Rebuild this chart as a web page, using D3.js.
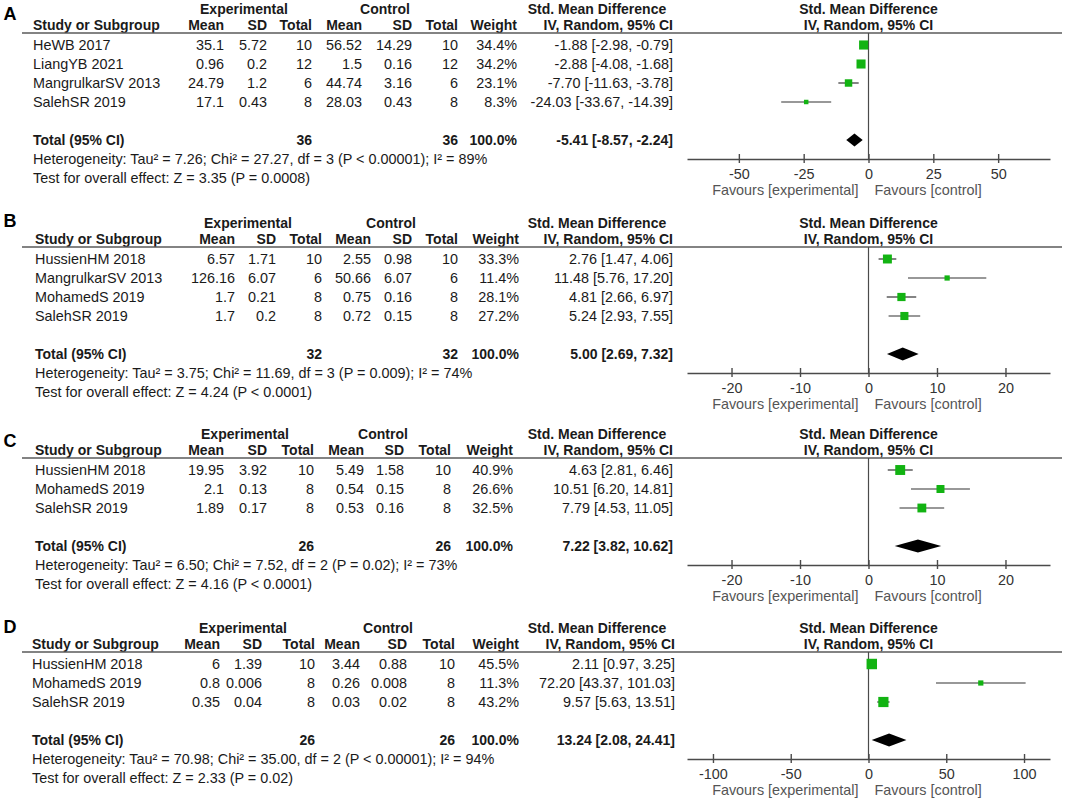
<!DOCTYPE html>
<html>
<head>
<meta charset="utf-8">
<script src="https://cdn.jsdelivr.net/npm/d3@7/dist/d3.min.js"></script>
<style>
  html, body { margin: 0; padding: 0; background: #ffffff; }
  svg { display: block; font-family: "Liberation Sans", Arial, sans-serif; }
</style>
</head>
<body>
<script>
// ---------------- DATA ----------------
// Panel A
const A_study   = ["HeWB 2017", "LiangYB 2021", "MangrulkarSV 2013", "SalehSR 2019"];
const A_expMean = [35.1, 0.96, 24.79, 17.1];
const A_expSD   = [5.72, 0.2, 1.2, 0.43];
const A_expN    = [10, 12, 6, 8];
const A_ctlMean = [56.52, 1.5, 44.74, 28.03];
const A_ctlSD   = [14.29, 0.16, 3.16, 0.43];
const A_ctlN    = [10, 12, 6, 8];
const A_weight  = [34.4, 34.2, 23.1, 8.3];
const A_smd     = [-1.88, -2.88, -7.70, -24.03];
const A_lo      = [-2.98, -4.08, -11.63, -33.67];
const A_hi      = [-0.79, -1.68, -3.78, -14.39];
const A_total   = [-5.41, -8.57, -2.24];
const A_totalN  = [36, 36];
const A_ticks   = [-50, -25, 0, 25, 50];
const A_extent  = [-70, 70];
const A_het  = "Heterogeneity: Tau\u00B2 = 7.26; Chi\u00B2 = 27.27, df = 3 (P < 0.00001); I\u00B2 = 89%";
const A_test = "Test for overall effect: Z = 3.35 (P = 0.0008)";

// Panel B
const B_study   = ["HussienHM 2018", "MangrulkarSV 2013", "MohamedS 2019", "SalehSR 2019"];
const B_expMean = [6.57, 126.16, 1.7, 1.7];
const B_expSD   = [1.71, 6.07, 0.21, 0.2];
const B_expN    = [10, 6, 8, 8];
const B_ctlMean = [2.55, 50.66, 0.75, 0.72];
const B_ctlSD   = [0.98, 6.07, 0.16, 0.15];
const B_ctlN    = [10, 6, 8, 8];
const B_weight  = [33.3, 11.4, 28.1, 27.2];
const B_smd     = [2.76, 11.48, 4.81, 5.24];
const B_lo      = [1.47, 5.76, 2.66, 2.93];
const B_hi      = [4.06, 17.20, 6.97, 7.55];
const B_total   = [5.00, 2.69, 7.32];
const B_totalN  = [32, 32];
const B_ticks   = [-20, -10, 0, 10, 20];
const B_extent  = [-26.5, 26.5];
const B_het  = "Heterogeneity: Tau\u00B2 = 3.75; Chi\u00B2 = 11.69, df = 3 (P = 0.009); I\u00B2 = 74%";
const B_test = "Test for overall effect: Z = 4.24 (P < 0.0001)";

// Panel C
const C_study   = ["HussienHM 2018", "MohamedS 2019", "SalehSR 2019"];
const C_expMean = [19.95, 2.1, 1.89];
const C_expSD   = [3.92, 0.13, 0.17];
const C_expN    = [10, 8, 8];
const C_ctlMean = [5.49, 0.54, 0.53];
const C_ctlSD   = [1.58, 0.15, 0.16];
const C_ctlN    = [10, 8, 8];
const C_weight  = [40.9, 26.6, 32.5];
const C_smd     = [4.63, 10.51, 7.79];
const C_lo      = [2.81, 6.20, 4.53];
const C_hi      = [6.46, 14.81, 11.05];
const C_total   = [7.22, 3.82, 10.62];
const C_totalN  = [26, 26];
const C_ticks   = [-20, -10, 0, 10, 20];
const C_extent  = [-26.5, 26.5];
const C_het  = "Heterogeneity: Tau\u00B2 = 6.50; Chi\u00B2 = 7.52, df = 2 (P = 0.02); I\u00B2 = 73%";
const C_test = "Test for overall effect: Z = 4.16 (P < 0.0001)";

// Panel D
const D_study   = ["HussienHM 2018", "MohamedS 2019", "SalehSR 2019"];
const D_expMean = [6, 0.8, 0.35];
const D_expSD   = [1.39, 0.006, 0.04];
const D_expN    = [10, 8, 8];
const D_ctlMean = [3.44, 0.26, 0.03];
const D_ctlSD   = [0.88, 0.008, 0.02];
const D_ctlN    = [10, 8, 8];
const D_weight  = [45.5, 11.3, 43.2];
const D_smd     = [2.11, 72.20, 9.57];
const D_lo      = [0.97, 43.37, 5.63];
const D_hi      = [3.25, 101.03, 13.51];
const D_total   = [13.24, 2.08, 24.41];
const D_totalN  = [26, 26];
const D_ticks   = [-100, -50, 0, 50, 100];
const D_extent  = [-116.7, 116.7];
const D_het  = "Heterogeneity: Tau\u00B2 = 70.98; Chi\u00B2 = 35.00, df = 2 (P < 0.00001); I\u00B2 = 94%";
const D_test = "Test for overall effect: Z = 2.33 (P = 0.02)";

// ---------------- LAYOUT ----------------
const panels = [
  { key: "A", labelY: 20, lineY: 33, nameX: 33,
    cols: { expMean: 224, expSD: 267, expN: 312, ctlMean: 362, ctlSD: 412, ctlN: 458, weight: 517, ci: 673, exp: 244, ctl: 385 },
    study: A_study, expMean: A_expMean, expSD: A_expSD, expN: A_expN, ctlMean: A_ctlMean, ctlSD: A_ctlSD, ctlN: A_ctlN,
    weight: A_weight, smd: A_smd, lo: A_lo, hi: A_hi, total: A_total, totalN: A_totalN, ticks: A_ticks, extent: A_extent, het: A_het, test: A_test },
  { key: "B", labelY: 227, lineY: 247, nameX: 35,
    cols: { expMean: 235, expSD: 276, expN: 322, ctlMean: 371, ctlSD: 412, ctlN: 458, weight: 519, ci: 673, exp: 248, ctl: 391 },
    study: B_study, expMean: B_expMean, expSD: B_expSD, expN: B_expN, ctlMean: B_ctlMean, ctlSD: B_ctlSD, ctlN: B_ctlN,
    weight: B_weight, smd: B_smd, lo: B_lo, hi: B_hi, total: B_total, totalN: B_totalN, ticks: B_ticks, extent: B_extent, het: B_het, test: B_test },
  { key: "C", labelY: 447, lineY: 458, nameX: 35,
    cols: { expMean: 224, expSD: 267, expN: 314, ctlMean: 364, ctlSD: 404, ctlN: 451, weight: 513, ci: 673, exp: 245, ctl: 383 },
    study: C_study, expMean: C_expMean, expSD: C_expSD, expN: C_expN, ctlMean: C_ctlMean, ctlSD: C_ctlSD, ctlN: C_ctlN,
    weight: C_weight, smd: C_smd, lo: C_lo, hi: C_hi, total: C_total, totalN: C_totalN, ticks: C_ticks, extent: C_extent, het: C_het, test: C_test },
  { key: "D", labelY: 633, lineY: 652, nameX: 32,
    cols: { expMean: 220, expSD: 262, expN: 315, ctlMean: 360, ctlSD: 407, ctlN: 455, weight: 519, ci: 675, exp: 243, ctl: 388 },
    study: D_study, expMean: D_expMean, expSD: D_expSD, expN: D_expN, ctlMean: D_ctlMean, ctlSD: D_ctlSD, ctlN: D_ctlN,
    weight: D_weight, smd: D_smd, lo: D_lo, hi: D_hi, total: D_total, totalN: D_totalN, ticks: D_ticks, extent: D_extent, het: D_het, test: D_test }
];

const W = 1065, H = 799;
const plotRange = [687, 1050];
const ROW = 19;
const FS = 14.4;
const textColor = "#1a1a1a";
const green = "#12b312";

const f2 = v => (v < 0 ? "-" : "") + Math.abs(v).toFixed(2);
const ciText = (e, l, h) => `${f2(e)} [${f2(l)}, ${f2(h)}]`;
const sizeScale = d3.scaleSqrt().domain([0, 100]).range([0, 15.5]);

const svg = d3.select("body").append("svg")
  .attr("width", W).attr("height", H)
  .attr("viewBox", `0 0 ${W} ${H}`);
svg.append("rect").attr("width", W).attr("height", H).attr("fill", "#fff");

function txt(g, x, y, s, anchor, bold, size, color) {
  return g.append("text")
    .attr("x", x).attr("y", y)
    .attr("text-anchor", anchor || "start")
    .attr("font-size", size || FS)
    .attr("font-weight", bold ? "bold" : "normal")
    .attr("fill", color || textColor)
    .text(s);
}

panels.forEach(p => {
  const g = svg.append("g");
  const L = p.lineY;
  const c = p.cols;
  const n = p.study.length;
  const x = d3.scaleLinear().domain(p.extent).range(plotRange);
  const x0 = x(0);
  const base = k => L + 17 + ROW * k;
  const mid = k => L + 12 + ROW * k;
  const axisY = mid(n + 2);

  // panel letter
  txt(g, 3.5, p.labelY, p.key, "start", true, 18, "#000");

  // header row 1
  const h1 = L - 19;
  txt(g, c.exp, h1, "Experimental", "middle", true, 14);
  txt(g, c.ctl, h1, "Control", "middle", true, 14);
  txt(g, 597, h1, "Std. Mean Difference", "middle", true, 14);
  txt(g, x0, h1, "Std. Mean Difference", "middle", true, 14);

  // header row 2
  const h2 = L - 3;
  txt(g, p.nameX, h2, "Study or Subgroup", "start", true, 14);
  txt(g, c.expMean, h2, "Mean", "end", true, 14);
  txt(g, c.expSD, h2, "SD", "end", true, 14);
  txt(g, c.expN, h2, "Total", "end", true, 14);
  txt(g, c.ctlMean, h2, "Mean", "end", true, 14);
  txt(g, c.ctlSD, h2, "SD", "end", true, 14);
  txt(g, c.ctlN, h2, "Total", "end", true, 14);
  txt(g, c.weight, h2, "Weight", "end", true, 14);
  txt(g, c.ci, h2, "IV, Random, 95% CI", "end", true, 14);
  txt(g, x0, h2, "IV, Random, 95% CI", "middle", true, 14);

  // header rule
  g.append("line").attr("x1", 22).attr("x2", 1062).attr("y1", L).attr("y2", L)
    .attr("stroke", "#5a5a5a").attr("stroke-width", 1.6);

  // study rows
  p.study.forEach((s, i) => {
    const y = base(i);
    txt(g, p.nameX, y, s, "start");
    txt(g, c.expMean, y, String(p.expMean[i]), "end");
    txt(g, c.expSD, y, String(p.expSD[i]), "end");
    txt(g, c.expN, y, String(p.expN[i]), "end");
    txt(g, c.ctlMean, y, String(p.ctlMean[i]), "end");
    txt(g, c.ctlSD, y, String(p.ctlSD[i]), "end");
    txt(g, c.ctlN, y, String(p.ctlN[i]), "end");
    txt(g, c.weight, y, p.weight[i].toFixed(1) + "%", "end");
    txt(g, c.ci, y, ciText(p.smd[i], p.lo[i], p.hi[i]), "end");
  });

  // total row
  const kT = n + 1;
  txt(g, p.nameX, base(kT), "Total (95% CI)", "start", true, 14);
  txt(g, c.expN, base(kT), String(p.totalN[0]), "end", true, 14);
  txt(g, c.ctlN, base(kT), String(p.totalN[1]), "end", true, 14);
  txt(g, c.weight, base(kT), "100.0%", "end", true, 14);
  txt(g, c.ci, base(kT), ciText(p.total[0], p.total[1], p.total[2]), "end", true, 14);

  // heterogeneity & test
  txt(g, p.nameX, base(n + 2), p.het, "start");
  txt(g, p.nameX, base(n + 3), p.test, "start");

  // zero line
  g.append("line").attr("x1", x0).attr("x2", x0).attr("y1", L).attr("y2", axisY)
    .attr("stroke", "#4a4a4a").attr("stroke-width", 1.2);

  // CI lines
  g.selectAll(".ci").data(p.study.map((s, i) => i)).enter().append("line")
    .attr("x1", i => x(p.lo[i])).attr("x2", i => x(p.hi[i]))
    .attr("y1", i => mid(i)).attr("y2", i => mid(i))
    .attr("stroke", "#333").attr("stroke-width", 1.2);

  // squares
  g.selectAll(".sq").data(p.study.map((s, i) => i)).enter().append("rect")
    .attr("x", i => x(p.smd[i]) - sizeScale(p.weight[i]) / 2)
    .attr("y", i => mid(i) - sizeScale(p.weight[i]) / 2)
    .attr("width", i => sizeScale(p.weight[i]))
    .attr("height", i => sizeScale(p.weight[i]))
    .attr("fill", green);

  // diamond
  const yT = mid(kT);
  const dh = 6.5;
  g.append("path")
    .attr("d", `M${x(p.total[1])},${yT} L${x(p.total[0])},${yT - dh} L${x(p.total[2])},${yT} L${x(p.total[0])},${yT + dh} Z`)
    .attr("fill", "#000");

  // axis
  const axis = d3.axisBottom(x).tickValues(p.ticks).tickFormat(d => String(d))
    .tickSizeInner(5).tickSizeOuter(0);
  const ag = g.append("g").attr("transform", `translate(0,${axisY})`).call(axis);
  ag.select(".domain").attr("stroke", "#4a4a4a").attr("stroke-width", 1.6);
  ag.selectAll(".tick line").attr("y1", -5).attr("y2", 4).attr("stroke", "#4a4a4a").attr("stroke-width", 1.4);
  ag.selectAll(".tick text")
    .attr("y", 20).attr("dy", 0)
    .attr("font-size", FS)
    .attr("font-family", "\"Liberation Sans\", Arial, sans-serif")
    .attr("fill", "#333");

  // favours labels
  txt(g, x0 - 10, axisY + 36, "Favours [experimental]", "end", false, FS, "#555");
  txt(g, x0 + 6, axisY + 36, "Favours [control]", "start", false, FS, "#555");
});
</script>
</body>
</html>
